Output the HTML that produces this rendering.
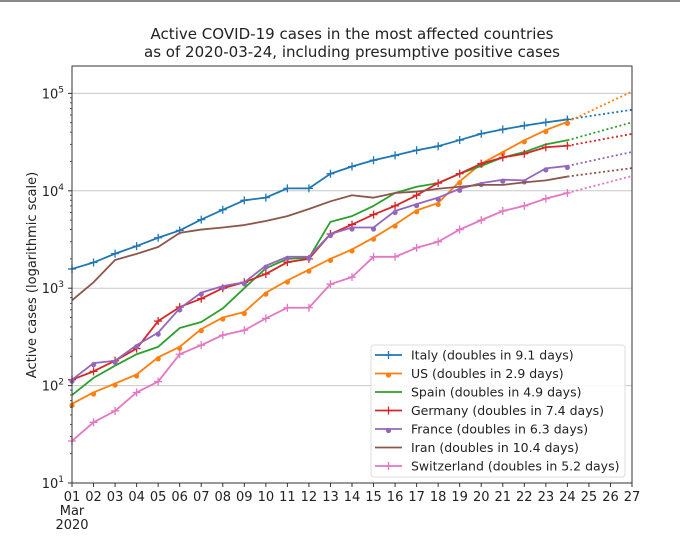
<!DOCTYPE html>
<html><head><meta charset="utf-8"><style>
body{margin:0;background:#fff;}
svg{display:block;font-family:"DejaVu Sans","Liberation Sans",sans-serif;}
</style></head><body>
<svg id="chart" width="680" height="543" viewBox="0 0 680 543">
<rect x="0" y="0" width="680" height="2" fill="#888"/>
<text x="352" y="39" font-size="15.5" text-anchor="middle" textLength="403" lengthAdjust="spacingAndGlyphs" fill="#222">Active COVID-19 cases in the most affected countries</text>
<text x="352" y="57" font-size="15.5" text-anchor="middle" textLength="416" lengthAdjust="spacingAndGlyphs" fill="#222">as of 2020-03-24, including presumptive positive cases</text>
<g id="grid"></g>
<g id="series"></g>
<rect x="72" y="66" width="560" height="417" fill="none" stroke="#333" stroke-width="1"/>
<g id="axes"></g>
<text transform="translate(36,275) rotate(-90)" font-size="13" text-anchor="middle" fill="#222">Active cases (logarithmic scale)</text>
<g id="legend"></g>
</svg>
<script>
const days = [1,2,3,4,5,6,7,8,9,10,11,12,13,14,15,16,17,18,19,20,21,22,23,24];
const names = ["Italy","US","Spain","Germany","France","Iran","Switzerland"];
const doubling = [9.1,2.9,4.9,7.4,6.3,10.4,5.2];
const colors = ["#1f77b4","#ff7f0e","#2ca02c","#d62728","#9467bd","#8c564b","#e377c2"];
const markers = ["+","dot","none","+","dot","none","+"];
const italy = [1577,1835,2263,2706,3296,3916,5061,6387,7985,8514,10590,10590,14955,17750,20603,23073,26062,28710,33190,38549,42681,46638,50418,54030];
const us = [65,85,105,130,195,250,380,500,570,900,1200,1550,2000,2500,3300,4500,6300,7500,12500,19000,25000,33000,42000,51000];
const spain = [80,120,160,210,250,390,450,620,1000,1600,2000,2050,4800,5500,7000,9500,11000,12000,15000,18000,22000,25000,30000,33000];
const germany = [115,140,180,240,460,640,780,1000,1150,1400,1850,2000,3600,4500,5700,7000,9000,12000,15000,19000,22000,24000,28000,29000];
const france = [115,170,180,260,350,620,900,1050,1150,1700,2100,2100,3600,4200,4200,6200,7300,8500,10500,12000,13000,12800,17000,18000];
const iran = [750,1150,1950,2250,2650,3700,4000,4200,4450,4900,5500,6500,7800,9000,8500,9500,9800,10500,11000,11500,11500,12200,12800,14000];
const switzerland = [27,42,55,85,110,210,260,330,370,490,630,630,1100,1300,2100,2100,2600,3000,4000,5000,6200,7000,8300,9500];
const seriesData = [italy,us,spain,germany,france,iran,switzerland];
const xTicks = ["01","02","03","04","05","06","07","08","09","10","11","12","13","14","15","16","17","18","19","20","21","22","23","24","25","26","27"];
const yDecades = [1,2,3,4,5];

const NS="http://www.w3.org/2000/svg";
const X0=72,X1=632,Y0=483,DEC=97.4;
function xs(d){return X0+(d-1)*(X1-X0)/26;}
function ys(v){return Y0-(Math.log10(v)-1)*DEC;}
function mk(tag,attrs,parent){const e=document.createElementNS(NS,tag);for(const k in attrs)e.setAttribute(k,attrs[k]);parent.appendChild(e);return e;}
const grid=document.getElementById('grid'),axes=document.getElementById('axes'),ser=document.getElementById('series'),leg=document.getElementById('legend');

yDecades.forEach(p=>{
  const y=ys(Math.pow(10,p));
  if(p>1){const g=mk('line',{x1:X0,x2:X1,y1:y,y2:y,stroke:'#c8c8c8','stroke-width':1},grid);
  
  }
  const t=mk('text',{x:X0-8,y:y+5,'font-size':13,'text-anchor':'end',fill:'#222'},axes);
  
  
  t.innerHTML='10<tspan font-size="9" dy="-6">'+p+'</tspan>';
  mk('line',{x1:X0-4,x2:X0,y1:y,y2:y,stroke:'#333'},axes);
  if(p<5){for(let m=2;m<10;m++){const yy=ys(m*Math.pow(10,p));mk('line',{x1:X0-2,x2:X0,y1:yy,y2:yy,stroke:'#333','stroke-width':0.8},axes);}}
});
xTicks.forEach((lab,i)=>{
  const x=xs(i+1);
  mk('line',{x1:x,x2:x,y1:Y0,y2:Y0+4,stroke:'#333'},axes);
  const t=mk('text',{x:x,y:Y0+18,'font-size':13,'text-anchor':'middle',fill:'#222'},axes);
  
  
  t.textContent=lab;
});
const m1=mk('text',{x:xs(1),y:Y0+32,'font-size':13,'text-anchor':'middle',fill:'#222'},axes);


m1.textContent='Mar';
const m2=mk('text',{x:xs(1),y:Y0+46,'font-size':13,'text-anchor':'middle',fill:'#222'},axes);


m2.textContent='2020';

function drawMarker(kind,x,y,c,parent){
  if(kind==='+'){mk('path',{d:`M${x-4} ${y}H${x+4}M${x} ${y-4}V${y+4}`,stroke:c,'stroke-width':1.3,fill:'none'},parent);}
  else if(kind==='dot'){mk('circle',{cx:x,cy:y+1.5,r:2.6,fill:c},parent);}
}
seriesData.forEach((vals,si)=>{
  const c=colors[si];
  const g=mk('g',{},ser);
  
  
  const pts=vals.map((v,i)=>xs(days[i])+','+ys(v)).join(' ');
  mk('polyline',{points:pts,fill:'none',stroke:c,'stroke-width':1.8,'stroke-linejoin':'round'},g);
  const last=vals[vals.length-1],ld=days[days.length-1];
  const proj=last*Math.pow(2,(27-ld)/doubling[si]);
  const pl=mk('line',{x1:xs(ld),y1:ys(last),x2:xs(27),y2:ys(proj),stroke:c,'stroke-width':1.8,'stroke-dasharray':'2,2.5'},g);
  
  
  vals.forEach((v,i)=>drawMarker(markers[si],xs(days[i]),ys(v),c,g));
});

const lb=mk('rect',{x:371,y:345,width:254,height:132,rx:3,fill:'#fff','fill-opacity':0.85,stroke:'#ddd'},leg);


names.forEach((n,i)=>{
  const y=355+i*18.5;
  const g=mk('g',{},leg);
  
  
  mk('line',{x1:375,x2:402,y1:y,y2:y,stroke:colors[i],'stroke-width':1.8},g);
  drawMarker(markers[i],388.5,y,colors[i],g);
  const t=mk('text',{x:411,y:y+4.5,'font-size':12.5,fill:'#222'},g);
  t.textContent=n+' (doubles in '+doubling[i]+' days)';
});
</script>
</body></html>
